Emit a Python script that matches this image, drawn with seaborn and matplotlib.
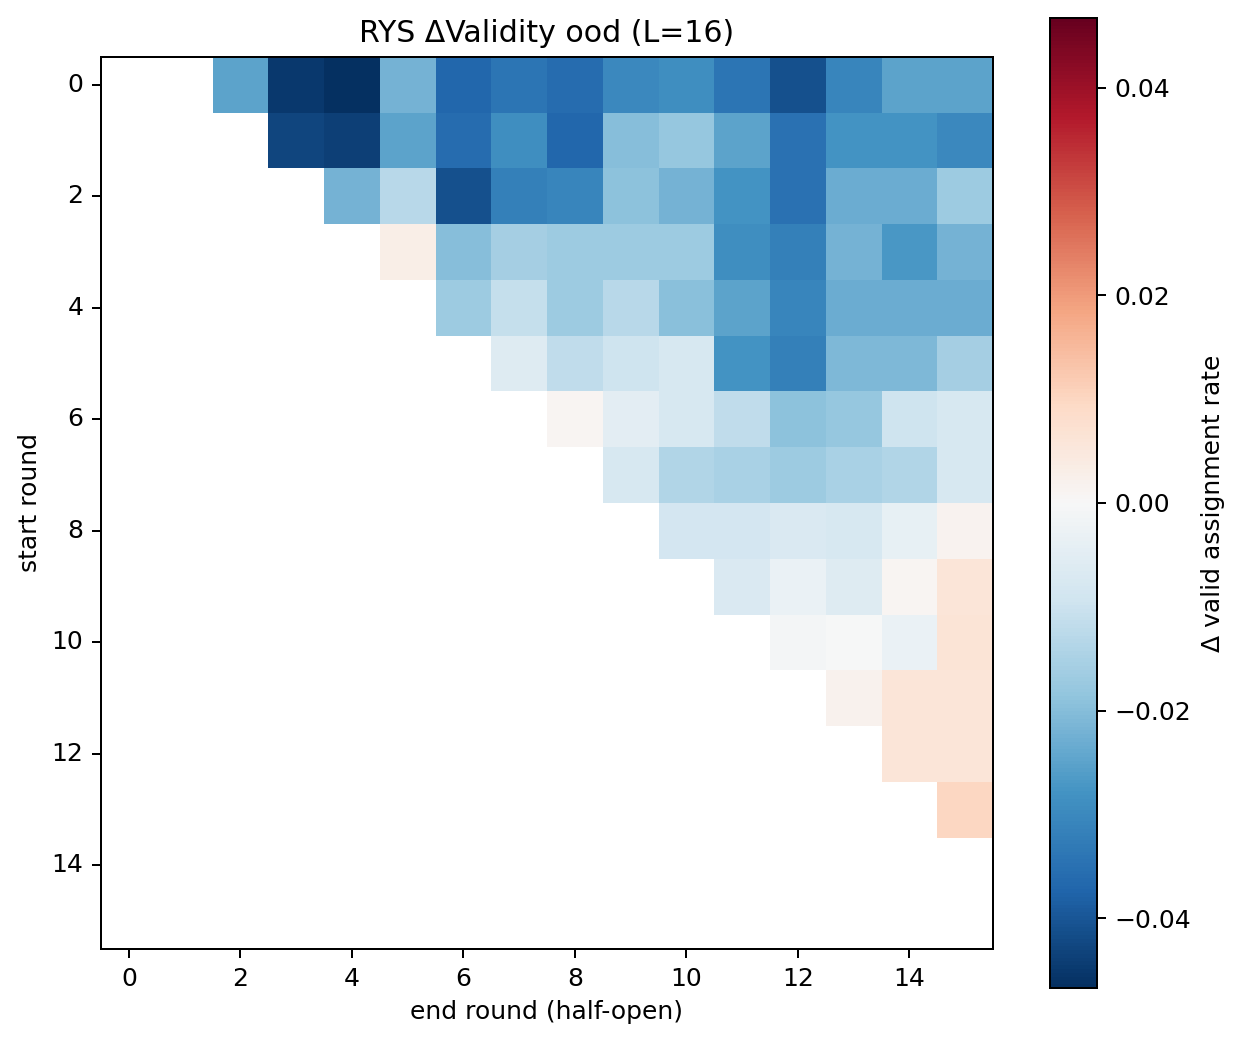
import numpy as np
import matplotlib
matplotlib.use("Agg")
import matplotlib.pyplot as plt
import seaborn as sns

# delta valid assignment rate, rows = start round, values start at end = start + 2
n_layers = 16
row_values = [
    [-0.025, -0.045, -0.0467, -0.022, -0.037, -0.034, -0.036, -0.030, -0.029, -0.034, -0.041, -0.031, -0.025, -0.025],
    [-0.043, -0.044, -0.025, -0.036, -0.029, -0.037, -0.020, -0.018, -0.025, -0.035, -0.028, -0.028, -0.030],
    [-0.022, -0.013, -0.041, -0.032, -0.031, -0.019, -0.022, -0.028, -0.035, -0.023, -0.023, -0.017],
    [0.003, -0.020, -0.016, -0.017, -0.017, -0.017, -0.029, -0.032, -0.022, -0.027, -0.022],
    [-0.017, -0.011, -0.017, -0.013, -0.0195, -0.025, -0.031, -0.023, -0.023, -0.023],
    [-0.006, -0.012, -0.0095, -0.008, -0.028, -0.032, -0.021, -0.021, -0.016],
    [0.001, -0.005, -0.008, -0.012, -0.019, -0.018, -0.0095, -0.008],
    [-0.008, -0.014, -0.015, -0.017, -0.015, -0.014, -0.008],
    [-0.0085, -0.0085, -0.007, -0.008, -0.004, 0.0015],
    [-0.007, -0.003, -0.006, 0.0008, 0.006],
    [-0.001, -0.0003, -0.003, 0.0065],
    [0.002, 0.006, 0.006],
    [0.006, 0.006],
    [0.010],
]

grid = np.full((n_layers, n_layers), np.nan)
for start, vals in enumerate(row_values):
    for k, v in enumerate(vals):
        grid[start, start + 2 + k] = v

vmax = 0.0467

fig = plt.figure(figsize=(1244 / 180, 1043 / 180), dpi=180)
ax = fig.add_axes([101 / 1244, 1 - 949 / 1043, 892 / 1244, 892 / 1043])
cax = fig.add_axes([1050 / 1244, 1 - 988 / 1043, 47 / 1244, 970 / 1043])

sns.heatmap(grid, ax=ax, cbar_ax=cax, cmap="RdBu_r", vmin=-vmax, vmax=vmax,
            cbar_kws={"label": "Δ valid assignment rate",
                      "ticks": [-0.04, -0.02, 0.0, 0.02, 0.04]})

ticks = np.arange(0, n_layers, 2)
ax.set_xticks(ticks + 0.5)
ax.set_xticklabels([str(t) for t in ticks], rotation=0)
ax.set_yticks(ticks + 0.5)
ax.set_yticklabels([str(t) for t in ticks], rotation=0)
ax.tick_params(length=3.5, width=0.8)
for s in ax.spines.values():
    s.set_visible(True)
    s.set_linewidth(0.8)
    s.set_color("black")

cb = ax.collections[0].colorbar
cb.outline.set_visible(True)
cb.outline.set_linewidth(0.8)
cb.outline.set_edgecolor("black")
cb.ax.tick_params(length=3.5, width=0.8)
cb.ax.yaxis.set_major_formatter(matplotlib.ticker.FuncFormatter(
    lambda v, p: f"{v:.2f}".replace("-", "\u2212")))

ax.set_xlabel("end round (half-open)")
ax.set_ylabel("start round")
ax.set_title("RYS ΔValidity ood (L=16)")

fig.savefig("out.png", dpi=180)
